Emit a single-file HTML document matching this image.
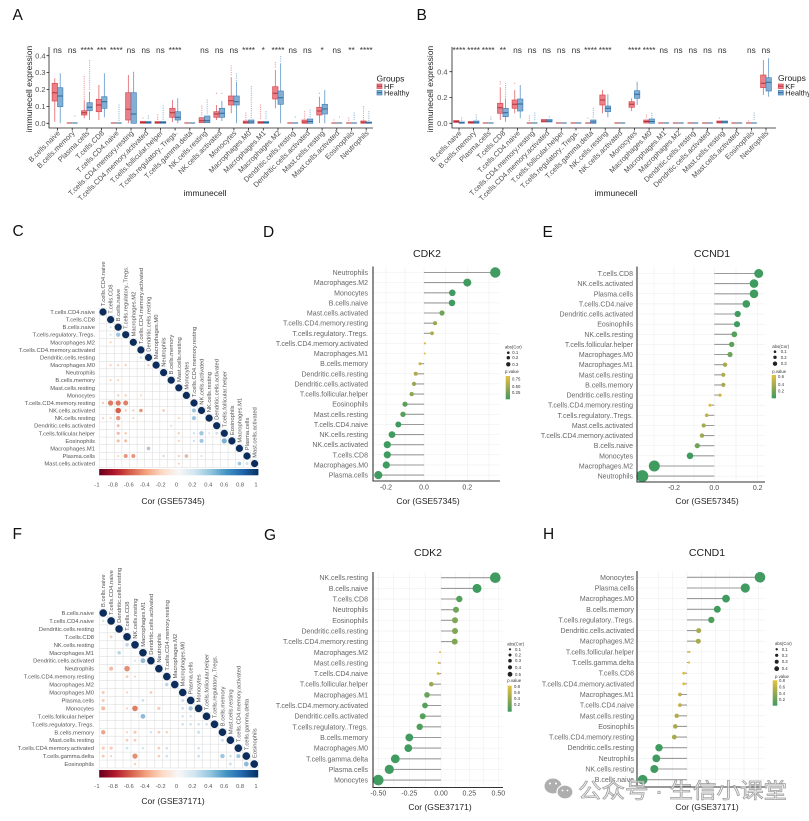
<!DOCTYPE html>
<html><head><meta charset="utf-8"><style>
html,body{margin:0;padding:0;background:#fff}
svg{display:block;font-family:"Liberation Sans",Arial,"Noto Sans CJK SC",sans-serif}
.tk{font-size:7.5px;fill:#4d4d4d}
.xl{font-size:7.3px;fill:#4d4d4d;text-anchor:end}
.sg{font-size:8.3px;fill:#333;text-anchor:middle}
.ml{font-size:5.8px;fill:#555}
.mr{font-size:5.8px;fill:#555;text-anchor:end}
.ll{font-size:7px;fill:#666;text-anchor:end}
.lg{font-size:4.3px;fill:#333}
.pl{font-size:15.5px;fill:#111}
.ttl{font-size:10.5px;fill:#222;text-anchor:middle}
.at{font-size:8.5px;fill:#222;text-anchor:middle}
.hr{fill:#eb8088;stroke:#d9474f;stroke-width:.7}
.br{fill:#84afd3;stroke:#4583bb;stroke-width:.7}
.hw{stroke:#dc4f57;stroke-width:.7;fill:none}
.bw{stroke:#4a88bf;stroke-width:.7;fill:none}
.hm{stroke:#b0323a;stroke-width:1;fill:none}
.bm{stroke:#2c6596;stroke-width:1;fill:none}
.ho{stroke:#f2a0a5;stroke-width:1.3;stroke-linecap:round;stroke-dasharray:0 2.2;fill:none}
.bo{stroke:#9cc1de;stroke-width:1.3;stroke-linecap:round;stroke-dasharray:0 2.2;fill:none}
.ax{stroke:#222;stroke-width:.8;fill:none}
.gr{stroke:#d9d9d9;stroke-width:.5;fill:none}
.gl{stroke:#ececec;stroke-width:.5;fill:none}
.sgm{stroke:#9a9a9a;stroke-width:1.1;fill:none}
.lax{stroke:#333;stroke-width:1.1;fill:none}
</style></head><body>
<svg width="809" height="821" viewBox="0 0 809 821" xmlns="http://www.w3.org/2000/svg">
<defs>
<linearGradient id="rdbu" x1="0" y1="0" x2="1" y2="0">
<stop offset="0" stop-color="#67001f"/><stop offset="0.1" stop-color="#b2182b"/><stop offset="0.2" stop-color="#d6604d"/><stop offset="0.3" stop-color="#f4a582"/><stop offset="0.4" stop-color="#fddbc7"/><stop offset="0.5" stop-color="#f7f7f7"/><stop offset="0.6" stop-color="#d1e5f0"/><stop offset="0.7" stop-color="#92c5de"/><stop offset="0.8" stop-color="#4393c3"/><stop offset="0.9" stop-color="#2166ac"/><stop offset="1" stop-color="#053061"/>
</linearGradient>
<linearGradient id="pv" x1="0" y1="0" x2="0" y2="1">
<stop offset="0" stop-color="#e3c23e"/><stop offset="0.5" stop-color="#98a851"/><stop offset="1" stop-color="#3f9b5f"/>
</linearGradient>
</defs>
<rect width="809" height="821" fill="#fff"/>

<!-- ============ PANEL A ============ -->
<text class="pl" x="12.5" y="20">A</text>
<text class="at" transform="translate(32 89) rotate(-90)">immunecell expression</text>
<text class="tk" text-anchor="end" x="45.5" y="125.9">0.0</text>
<text class="tk" text-anchor="end" x="45.5" y="109">0.1</text>
<text class="tk" text-anchor="end" x="45.5" y="92.1">0.2</text>
<text class="tk" text-anchor="end" x="45.5" y="75.2">0.3</text>
<text class="tk" text-anchor="end" x="45.5" y="58.3">0.4</text>
<path class="ax" d="M46.5 123.3H49M46.5 106.4H49M46.5 89.5H49M46.5 72.6H49M46.5 55.7H49"/>
<path class="ax" d="M49 47V128H373"/>
<path class="ax" d="M57.5 128v2.5M72.2 128v2.5M86.9 128v2.5M101.6 128v2.5M116.3 128v2.5M131 128v2.5M145.7 128v2.5M160.4 128v2.5M175.1 128v2.5M189.8 128v2.5M204.5 128v2.5M219.2 128v2.5M233.9 128v2.5M248.6 128v2.5M263.3 128v2.5M278 128v2.5M292.7 128v2.5M307.4 128v2.5M322.1 128v2.5M336.8 128v2.5M351.5 128v2.5M366.2 128v2.5"/>
<path class="ho" d="M84.2 76.7V99M143 118V120M157.7 115V120M201.8 106V116M216.5 93.3V93.4M231.2 66V76M245.9 113V120M260.6 105V120M275.3 62.7V69M304.7 111.7V119M319.4 93.3V93.4M334.1 120V120.1M348.8 118V121M363.5 106.7V120"/>
<path class="bo" d="M74.9 116V116.1M89.6 60.7V90M119 105V121M148.4 116V120M163.1 106V120M207.2 100V114M221.9 93.3V93.4M236.6 74V81M251.3 86.7V119M266 111.7V120M280.7 56.7V62M295.4 117V117.1M310.1 110V118M339.5 117V117.1M354.2 113V121M368.9 111.7V121"/>
<path class="hw" d="M54.8 78.3V83.3M54.8 101V121.7M84.2 100V110.7M84.2 115V118.3M98.9 85V99.3M98.9 111.7V120M128.3 75V92.7M128.3 120V123.3M172.4 100V108.3M172.4 117.3V122M216.5 105V111.7M216.5 117.3V120M231.2 77.3V96M231.2 105V113.3M275.3 70V86.7M275.3 99V108.3M319.4 96.7V107.3M319.4 115V123"/>
<path class="bw" d="M60.2 73.3V87.7M60.2 106.7V123.3M89.6 91.7V102.7M89.6 110.7V120M104.3 73.3V96.7M104.3 108.3V117.3M133.7 71.7V92.7M177.8 98.3V111.7M177.8 120V123.3M221.9 101V108.3M221.9 117.3V121M236.6 82V96M236.6 105V123.3M280.7 63.3V91M280.7 104.3V123.3M324.8 90V104.3M324.8 114V123.3"/>
<g class="hr">
<rect x="52.1" y="83.3" width="5.4" height="17.7"/><rect x="81.5" y="110.7" width="5.4" height="4.3"/><rect x="96.2" y="99.3" width="5.4" height="12.4"/><rect x="125.6" y="92.7" width="5.4" height="27.3"/><rect x="140.3" y="121.3" width="5.4" height="2"/><rect x="155" y="121.5" width="5.4" height="1.8"/><rect x="169.7" y="108.3" width="5.4" height="9"/><rect x="199.1" y="117.7" width="5.4" height="5"/><rect x="213.8" y="111.7" width="5.4" height="5.6"/><rect x="228.5" y="96" width="5.4" height="9"/><rect x="243.2" y="121" width="5.4" height="2.3"/><rect x="257.9" y="121.5" width="5.4" height="1.8"/><rect x="272.6" y="86.7" width="5.4" height="12.3"/><rect x="302" y="120" width="5.4" height="3.3"/><rect x="316.7" y="107.3" width="5.4" height="7.7"/><rect x="360.8" y="121" width="5.4" height="2.3"/>
</g>
<g class="br">
<rect x="57.5" y="87.7" width="5.4" height="19"/><rect x="86.9" y="102.7" width="5.4" height="8"/><rect x="101.6" y="96.7" width="5.4" height="11.6"/><rect x="131" y="92.7" width="5.4" height="30.6"/><rect x="145.7" y="121.5" width="5.4" height="1.8"/><rect x="160.4" y="121.5" width="5.4" height="1.8"/><rect x="175.1" y="111.7" width="5.4" height="8.3"/><rect x="204.5" y="116" width="5.4" height="6.7"/><rect x="219.2" y="108.3" width="5.4" height="9"/><rect x="233.9" y="96" width="5.4" height="9"/><rect x="248.6" y="120" width="5.4" height="3.3"/><rect x="263.3" y="121.5" width="5.4" height="1.8"/><rect x="278" y="91" width="5.4" height="13.3"/><rect x="307.4" y="119" width="5.4" height="4.3"/><rect x="322.1" y="104.3" width="5.4" height="9.7"/><rect x="366.2" y="122" width="5.4" height="1.3"/>
</g>
<path class="hm" d="M52.1 92.7h5.4M81.5 112.7h5.4M96.2 105h5.4M125.6 109.3h5.4M169.7 112.7h5.4M199.1 120.7h5.4M213.8 114h5.4M228.5 100.7h5.4M272.6 93.3h5.4M316.7 111h5.4M66.8 123h5.4M110.9 123h5.4M184.4 123h5.4M287.3 123h5.4M331.4 123h5.4M346.1 123h5.4M140.3 122.5h5.4M155 122.6h5.4M243.2 122.3h5.4M257.9 122.6h5.4M302 122h5.4M360.8 122.3h5.4"/>
<path class="bm" d="M57.5 96h5.4M86.9 107.3h5.4M101.6 101.7h5.4M131 114h5.4M175.1 117.3h5.4M204.5 120.7h5.4M219.2 113.3h5.4M233.9 101.7h5.4M278 97.7h5.4M322.1 109h5.4M72.2 123h5.4M116.3 123h5.4M189.8 123h5.4M292.7 123h5.4M336.8 123h5.4M351.5 123h5.4M145.7 122.5h5.4M160.4 122.5h5.4M248.6 122h5.4M263.3 122.5h5.4M307.4 121.5h5.4M366.2 122.7h5.4"/>
<g class="sg">
<text x="57.5" y="53">ns</text><text x="72.2" y="53">ns</text><text x="86.9" y="53">****</text><text x="101.6" y="53">***</text><text x="116.3" y="53">****</text><text x="131" y="53">ns</text><text x="145.7" y="53">ns</text><text x="160.4" y="53">ns</text><text x="175.1" y="53">****</text><text x="204.5" y="53">ns</text><text x="219.2" y="53">ns</text><text x="233.9" y="53">ns</text><text x="248.6" y="53">****</text><text x="263.3" y="53">*</text><text x="278" y="53">****</text><text x="292.7" y="53">ns</text><text x="307.4" y="53">ns</text><text x="322.1" y="53">*</text><text x="336.8" y="53">ns</text><text x="351.5" y="53">**</text><text x="366.2" y="53">****</text>
</g>
<g class="xl">
<text transform="translate(60.5 133.5) rotate(-45)">B.cells.naive</text>
<text transform="translate(75.2 133.5) rotate(-45)">B.cells.memory</text>
<text transform="translate(89.9 133.5) rotate(-45)">Plasma.cells</text>
<text transform="translate(104.6 133.5) rotate(-45)">T.cells.CD8</text>
<text transform="translate(119.3 133.5) rotate(-45)">T.cells.CD4.naive</text>
<text transform="translate(134 133.5) rotate(-45)">T.cells.CD4.memory.resting</text>
<text transform="translate(148.7 133.5) rotate(-45)">T.cells.CD4.memory.activated</text>
<text transform="translate(163.4 133.5) rotate(-45)">T.cells.follicular.helper</text>
<text transform="translate(178.1 133.5) rotate(-45)">T.cells.regulatory..Tregs.</text>
<text transform="translate(192.8 133.5) rotate(-45)">T.cells.gamma.delta</text>
<text transform="translate(207.5 133.5) rotate(-45)">NK.cells.resting</text>
<text transform="translate(222.2 133.5) rotate(-45)">NK.cells.activated</text>
<text transform="translate(236.9 133.5) rotate(-45)">Monocytes</text>
<text transform="translate(251.6 133.5) rotate(-45)">Macrophages.M0</text>
<text transform="translate(266.3 133.5) rotate(-45)">Macrophages.M1</text>
<text transform="translate(281 133.5) rotate(-45)">Macrophages.M2</text>
<text transform="translate(295.7 133.5) rotate(-45)">Dendritic.cells.resting</text>
<text transform="translate(310.4 133.5) rotate(-45)">Dendritic.cells.activated</text>
<text transform="translate(325.1 133.5) rotate(-45)">Mast.cells.resting</text>
<text transform="translate(339.8 133.5) rotate(-45)">Mast.cells.activated</text>
<text transform="translate(354.5 133.5) rotate(-45)">Eosinophils</text>
<text transform="translate(369.2 133.5) rotate(-45)">Neutrophils</text>
</g>
<text class="at" x="205" y="196">immunecell</text>
<text x="376.5" y="81.5" style="font-size:8.5px;fill:#222">Groups</text>
<rect class="hr" x="377" y="84" width="5" height="4.5"/><path class="hm" d="M377 86.2h5"/>
<text x="384" y="89" style="font-size:7.5px;fill:#222">HF</text>
<rect class="br" x="377" y="90.5" width="5" height="4.5"/><path class="bm" d="M377 92.7h5"/>
<text x="384" y="95.5" style="font-size:7.5px;fill:#222">Healthy</text>

<!-- ============ PANEL B ============ -->
<text class="pl" x="416.5" y="20">B</text>
<text class="at" transform="translate(433 89) rotate(-90)">immunecell expression</text>
<text class="tk" text-anchor="end" x="447.5" y="125.9">0.0</text>
<text class="tk" text-anchor="end" x="447.5" y="100.1">0.2</text>
<text class="tk" text-anchor="end" x="447.5" y="74.3">0.4</text>
<path class="ax" d="M449.5 123.3H452M449.5 97.5H452M449.5 71.7H452"/>
<path class="ax" d="M452 47V128H776"/>
<path class="ax" d="M459 128v2.5M473.6 128v2.5M488.2 128v2.5M502.9 128v2.5M517.5 128v2.5M532.1 128v2.5M546.7 128v2.5M561.3 128v2.5M576 128v2.5M590.6 128v2.5M605.2 128v2.5M619.8 128v2.5M634.4 128v2.5M649.1 128v2.5M663.7 128v2.5M678.3 128v2.5M692.9 128v2.5M707.5 128v2.5M722.2 128v2.5M736.8 128v2.5M751.4 128v2.5M766 128v2.5"/>
<path class="ho" d="M500.2 81.7V86M514.8 83.3V83.4M529.4 116V121M587.9 118V118.1M646.4 115V119M719.5 118V118.1M748.7 121V121.1"/>
<path class="bo" d="M461.7 118V121M476.3 115V120M490.9 117V121M505.6 83.3V97M534.8 113V121M549.4 117V117.1M593.3 108.3V119M651.8 113.3V118M754.1 113V121"/>
<path class="hw" d="M500.2 87.3V103.3M500.2 113.3V120M514.8 90V100M514.8 108.3V113.3M602.5 90V95M602.5 105V113.3M631.7 98.3V101.7M631.7 107.3V111M763.3 60V75M763.3 87.7V95"/>
<path class="bw" d="M505.6 98.3V108.3M505.6 116.7V121.7M520.2 85V99M520.2 111V118.3M607.9 94.3V106M607.9 111.7V117.3M637.1 81.7V90.7M637.1 98.3V105M768.7 58.3V77.7M768.7 91V96.7"/>
<g class="hr">
<rect x="453.6" y="120.5" width="5.4" height="2"/><rect x="468.2" y="121.5" width="5.4" height="1.8"/><rect x="497.5" y="103.3" width="5.4" height="10"/><rect x="512.1" y="100" width="5.4" height="8.3"/><rect x="541.3" y="119.5" width="5.4" height="2.5"/><rect x="599.8" y="95" width="5.4" height="10"/><rect x="629" y="101.7" width="5.4" height="5.6"/><rect x="643.7" y="120" width="5.4" height="3"/><rect x="716.8" y="121" width="5.4" height="2"/><rect x="760.6" y="75" width="5.4" height="12.7"/>
</g>
<g class="br">
<rect x="459" y="122" width="5.4" height="1.3"/><rect x="473.6" y="121" width="5.4" height="2.3"/><rect x="502.9" y="108.3" width="5.4" height="8.4"/><rect x="517.5" y="99" width="5.4" height="12"/><rect x="546.7" y="119.5" width="5.4" height="2.5"/><rect x="590.6" y="120" width="5.4" height="3.3"/><rect x="605.2" y="106" width="5.4" height="5.7"/><rect x="634.4" y="90.7" width="5.4" height="7.6"/><rect x="649.1" y="119" width="5.4" height="4.3"/><rect x="722.2" y="121" width="5.4" height="2"/><rect x="766" y="77.7" width="5.4" height="13.3"/>
</g>
<path class="hm" d="M453.6 121.5h5.4M468.2 122.4h5.4M497.5 107.7h5.4M512.1 104.3h5.4M541.3 121h5.4M599.8 100h5.4M629 104.3h5.4M643.7 121.5h5.4M716.8 122h5.4M760.6 83.3h5.4M482.8 123h5.4M526.7 123h5.4M555.9 123h5.4M570.6 123h5.4M585.2 123h5.4M614.4 123h5.4M658.3 123h5.4M672.9 123h5.4M687.5 123h5.4M702.1 123h5.4M731.4 123h5.4M746 123h5.4"/>
<path class="bm" d="M459 122.7h5.4M473.6 122.3h5.4M502.9 112.7h5.4M517.5 104h5.4M546.7 121h5.4M590.6 122h5.4M605.2 108.3h5.4M634.4 94.3h5.4M649.1 121.5h5.4M722.2 122h5.4M766 82.3h5.4M488.2 123h5.4M532.1 123h5.4M561.3 123h5.4M576 123h5.4M619.8 123h5.4M663.7 123h5.4M678.3 123h5.4M692.9 123h5.4M707.5 123h5.4M736.8 123h5.4M751.4 123h5.4"/>
<g class="sg">
<text x="459" y="53">****</text><text x="473.6" y="53">****</text><text x="488.2" y="53">****</text><text x="502.9" y="53">**</text><text x="517.5" y="53">ns</text><text x="532.1" y="53">ns</text><text x="546.7" y="53">ns</text><text x="561.3" y="53">ns</text><text x="576" y="53">ns</text><text x="590.6" y="53">****</text><text x="605.2" y="53">****</text><text x="634.4" y="53">****</text><text x="649.1" y="53">****</text><text x="663.7" y="53">ns</text><text x="678.3" y="53">ns</text><text x="692.9" y="53">ns</text><text x="707.5" y="53">ns</text><text x="722.2" y="53">ns</text><text x="751.4" y="53">ns</text><text x="766" y="53">ns</text>
</g>
<g class="xl">
<text transform="translate(462 133.5) rotate(-45)">B.cells.naive</text>
<text transform="translate(476.6 133.5) rotate(-45)">B.cells.memory</text>
<text transform="translate(491.2 133.5) rotate(-45)">Plasma.cells</text>
<text transform="translate(505.9 133.5) rotate(-45)">T.cells.CD8</text>
<text transform="translate(520.5 133.5) rotate(-45)">T.cells.CD4.naive</text>
<text transform="translate(535.1 133.5) rotate(-45)">T.cells.CD4.memory.resting</text>
<text transform="translate(549.7 133.5) rotate(-45)">T.cells.CD4.memory.activated</text>
<text transform="translate(564.3 133.5) rotate(-45)">T.cells.follicular.helper</text>
<text transform="translate(579 133.5) rotate(-45)">T.cells.regulatory..Tregs.</text>
<text transform="translate(593.6 133.5) rotate(-45)">T.cells.gamma.delta</text>
<text transform="translate(608.2 133.5) rotate(-45)">NK.cells.resting</text>
<text transform="translate(622.8 133.5) rotate(-45)">NK.cells.activated</text>
<text transform="translate(637.4 133.5) rotate(-45)">Monocytes</text>
<text transform="translate(652.1 133.5) rotate(-45)">Macrophages.M0</text>
<text transform="translate(666.7 133.5) rotate(-45)">Macrophages.M1</text>
<text transform="translate(681.3 133.5) rotate(-45)">Macrophages.M2</text>
<text transform="translate(695.9 133.5) rotate(-45)">Dendritic.cells.resting</text>
<text transform="translate(710.5 133.5) rotate(-45)">Dendritic.cells.activated</text>
<text transform="translate(725.2 133.5) rotate(-45)">Mast.cells.resting</text>
<text transform="translate(739.8 133.5) rotate(-45)">Mast.cells.activated</text>
<text transform="translate(754.4 133.5) rotate(-45)">Eosinophils</text>
<text transform="translate(769 133.5) rotate(-45)">Neutrophils</text>
</g>
<text class="at" x="616" y="196">immunecell</text>
<text x="778" y="81" style="font-size:8.5px;fill:#222">Groups</text>
<rect class="hr" x="778.3" y="84" width="5" height="4.5"/><path class="hm" d="M778.3 86.2h5"/>
<text x="785.3" y="89" style="font-size:7.5px;fill:#222">KF</text>
<rect class="br" x="778.3" y="90.5" width="5" height="4.5"/><path class="bm" d="M778.3 92.7h5"/>
<text x="785.3" y="95.5" style="font-size:7.5px;fill:#222">Healthy</text>

<!-- ============ PANEL C ============ -->
<text class="pl" x="12.5" y="236">C</text>
<path class="gr" d="M99.2 308.2H106.78M99.2 315.78H114.36M99.2 323.36H121.94M99.2 330.94H129.52M99.2 338.52H137.1M99.2 346.1H144.68M99.2 353.68H152.26M99.2 361.26H159.84M99.2 368.84H167.42M99.2 376.42H175M99.2 384H182.58M99.2 391.58H190.16M99.2 399.16H197.74M99.2 406.74H205.32M99.2 414.32H212.9M99.2 421.9H220.48M99.2 429.48H228.06M99.2 437.06H235.64M99.2 444.64H243.22M99.2 452.22H250.8M99.2 459.8H258.38M99.2 467.38H258.38"/>
<path class="gr" d="M99.2 308.2V467.38M106.78 308.2V467.38M114.36 315.78V467.38M121.94 323.36V467.38M129.52 330.94V467.38M137.1 338.52V467.38M144.68 346.1V467.38M152.26 353.68V467.38M159.84 361.26V467.38M167.42 368.84V467.38M175 376.42V467.38M182.58 384V467.38M190.16 391.58V467.38M197.74 399.16V467.38M205.32 406.74V467.38M212.9 414.32V467.38M220.48 421.9V467.38M228.06 429.48V467.38M235.64 437.06V467.38M243.22 444.64V467.38M250.8 452.22V467.38M258.38 459.8V467.38"/>
<g fill="#0c2d5c">
<circle cx="103" cy="312" r="3.6"/><circle cx="110.6" cy="319.6" r="3.6"/><circle cx="118.2" cy="327.2" r="3.6"/><circle cx="125.7" cy="334.7" r="3.6"/><circle cx="133.3" cy="342.3" r="3.6"/><circle cx="140.9" cy="349.9" r="3.6"/><circle cx="148.5" cy="357.5" r="3.6"/><circle cx="156.1" cy="365.1" r="3.6"/><circle cx="163.6" cy="372.6" r="3.6"/><circle cx="171.2" cy="380.2" r="3.6"/><circle cx="178.8" cy="387.8" r="3.6"/><circle cx="186.4" cy="395.4" r="3.6"/><circle cx="194" cy="403" r="3.6"/><circle cx="201.5" cy="410.5" r="3.6"/><circle cx="209.1" cy="418.1" r="3.6"/><circle cx="216.7" cy="425.7" r="3.6"/><circle cx="224.3" cy="433.3" r="3.6"/><circle cx="231.9" cy="440.9" r="3.6"/><circle cx="239.4" cy="448.4" r="3.6"/><circle cx="247" cy="456" r="3.6"/><circle cx="254.6" cy="463.6" r="3.6"/>
</g>
<g>
<circle cx="110.6" cy="327.2" r="1" fill="#cfe2ef"/>
<circle cx="110.6" cy="334.7" r="1" fill="#cfe2ef"/>
<circle cx="118.2" cy="334.7" r="2.2" fill="#9dc6df"/>
<circle cx="110.6" cy="342.3" r="1" fill="#f6cdb8"/>
<circle cx="140.9" cy="357.5" r="1.3" fill="#cfe2ef"/>
<circle cx="110.6" cy="365.1" r="1.1" fill="#f6cdb8"/>
<circle cx="118.2" cy="365.1" r="1.1" fill="#f6cdb8"/>
<circle cx="125.7" cy="365.1" r="1.1" fill="#f6cdb8"/>
<circle cx="148.5" cy="365.1" r="1.1" fill="#f6cdb8"/>
<circle cx="110.6" cy="380.2" r="1" fill="#f6cdb8"/>
<circle cx="118.2" cy="380.2" r="1" fill="#f6cdb8"/>
<circle cx="118.2" cy="395.4" r="1.2" fill="#f6cdb8"/>
<circle cx="125.7" cy="395.4" r="1.2" fill="#f6cdb8"/>
<circle cx="140.9" cy="395.4" r=".9" fill="#f6cdb8"/>
<circle cx="103" cy="403" r="1.2" fill="#f6cdb8"/>
<circle cx="110.6" cy="403" r="2.6" fill="#dc7a63"/>
<circle cx="118.2" cy="403" r="2.6" fill="#dc7a63"/>
<circle cx="125.7" cy="403" r="2.5" fill="#df8169"/>
<circle cx="118.2" cy="410.5" r="2.8" fill="#d6604d"/>
<circle cx="125.7" cy="410.5" r="1.2" fill="#f6cdb8"/>
<circle cx="133.3" cy="410.5" r="1.2" fill="#f6cdb8"/>
<circle cx="140.9" cy="410.5" r="1.8" fill="#e8957a"/>
<circle cx="163.6" cy="410.5" r="1.4" fill="#f6cdb8"/>
<circle cx="194" cy="410.5" r="2" fill="#9dc6df"/>
<circle cx="103" cy="418.1" r="1" fill="#f6cdb8"/>
<circle cx="110.6" cy="418.1" r="1" fill="#f6cdb8"/>
<circle cx="118.2" cy="418.1" r="2.2" fill="#e8957a"/>
<circle cx="133.3" cy="418.1" r="1" fill="#f6cdb8"/>
<circle cx="178.8" cy="418.1" r="1" fill="#f6cdb8"/>
<circle cx="194" cy="418.1" r="2" fill="#9dc6df"/>
<circle cx="118.2" cy="425.7" r="1.4" fill="#f2bba3"/>
<circle cx="171.2" cy="425.7" r="1" fill="#cfe2ef"/>
<circle cx="118.2" cy="433.3" r="1.6" fill="#f2bba3"/>
<circle cx="125.7" cy="433.3" r="1.3" fill="#f6cdb8"/>
<circle cx="178.8" cy="433.3" r="1.2" fill="#f6cdb8"/>
<circle cx="194" cy="433.3" r="1.2" fill="#cfe2ef"/>
<circle cx="201.5" cy="433.3" r="2.2" fill="#9dc6df"/>
<circle cx="209.1" cy="433.3" r="1" fill="#cfe2ef"/>
<circle cx="216.7" cy="433.3" r="1.4" fill="#cfe2ef"/>
<circle cx="118.2" cy="440.9" r="1.5" fill="#f2bba3"/>
<circle cx="125.7" cy="440.9" r="1.5" fill="#f2bba3"/>
<circle cx="178.8" cy="440.9" r="1" fill="#f6cdb8"/>
<circle cx="194" cy="440.9" r="1.2" fill="#cfe2ef"/>
<circle cx="201.5" cy="440.9" r="2" fill="#9dc6df"/>
<circle cx="224.3" cy="440.9" r="2.6" fill="#7fb0d4"/>
<circle cx="148.5" cy="448.4" r="1.8" fill="#b5c2cf"/>
<circle cx="118.2" cy="456" r="1" fill="#f6cdb8"/>
<circle cx="125.7" cy="456" r="2" fill="#e8957a"/>
<circle cx="133.3" cy="456" r="2" fill="#e8957a"/>
<circle cx="163.6" cy="456" r="1.1" fill="#f6cdb8"/>
<circle cx="178.8" cy="456" r="1.1" fill="#f6cdb8"/>
<circle cx="186.4" cy="456" r="1.8" fill="#e7b3a0"/>
<circle cx="201.5" cy="456" r="1" fill="#cfe2ef"/>
<circle cx="178.8" cy="463.6" r="1" fill="#f6cdb8"/>
<circle cx="239.4" cy="463.6" r="1.8" fill="#9dc6df"/>
<circle cx="247" cy="463.6" r="1.5" fill="#cfe2ef"/>
</g>
<g class="mr">
<text x="95" y="314">T.cells.CD4.naive</text><text x="95" y="321.6">T.cells.CD8</text><text x="95" y="329.2">B.cells.naive</text><text x="95" y="336.7">T.cells.regulatory..Tregs.</text><text x="95" y="344.3">Macrophages.M2</text><text x="95" y="351.9">T.cells.CD4.memory.activated</text><text x="95" y="359.5">Dendritic.cells.resting</text><text x="95" y="367.1">Macrophages.M0</text><text x="95" y="374.6">Neutrophils</text><text x="95" y="382.2">B.cells.memory</text><text x="95" y="389.8">Mast.cells.resting</text><text x="95" y="397.4">Monocytes</text><text x="95" y="405">T.cells.CD4.memory.resting</text><text x="95" y="412.5">NK.cells.activated</text><text x="95" y="420.1">NK.cells.resting</text><text x="95" y="427.7">Dendritic.cells.activated</text><text x="95" y="435.3">T.cells.follicular.helper</text><text x="95" y="442.9">Eosinophils</text><text x="95" y="450.4">Macrophages.M1</text><text x="95" y="458">Plasma.cells</text><text x="95" y="465.6">Mast.cells.activated</text>
</g>
<g class="ml">
<text transform="translate(105 306.2) rotate(-90)">T.cells.CD4.naive</text>
<text transform="translate(112.6 313.8) rotate(-90)">T.cells.CD8</text>
<text transform="translate(120.2 321.4) rotate(-90)">B.cells.naive</text>
<text transform="translate(127.7 328.9) rotate(-90)">T.cells.regulatory..Tregs.</text>
<text transform="translate(135.3 336.5) rotate(-90)">Macrophages.M2</text>
<text transform="translate(142.9 344.1) rotate(-90)">T.cells.CD4.memory.activated</text>
<text transform="translate(150.5 351.7) rotate(-90)">Dendritic.cells.resting</text>
<text transform="translate(158.1 359.3) rotate(-90)">Macrophages.M0</text>
<text transform="translate(165.6 366.8) rotate(-90)">Neutrophils</text>
<text transform="translate(173.2 374.4) rotate(-90)">B.cells.memory</text>
<text transform="translate(180.8 382) rotate(-90)">Mast.cells.resting</text>
<text transform="translate(188.4 389.6) rotate(-90)">Monocytes</text>
<text transform="translate(196 397.2) rotate(-90)">T.cells.CD4.memory.resting</text>
<text transform="translate(203.5 404.7) rotate(-90)">NK.cells.activated</text>
<text transform="translate(211.1 412.3) rotate(-90)">NK.cells.resting</text>
<text transform="translate(218.7 419.9) rotate(-90)">Dendritic.cells.activated</text>
<text transform="translate(226.3 427.5) rotate(-90)">T.cells.follicular.helper</text>
<text transform="translate(233.9 435.1) rotate(-90)">Eosinophils</text>
<text transform="translate(241.4 442.6) rotate(-90)">Macrophages.M1</text>
<text transform="translate(249 450.2) rotate(-90)">Plasma.cells</text>
<text transform="translate(256.6 457.8) rotate(-90)">Mast.cells.activated</text>
</g>
<rect x="99.2" y="469" width="159.2" height="6.3" fill="url(#rdbu)"/>
<g class="ml" text-anchor="middle">
<text x="97" y="486.5">-1</text><text x="112.9" y="486.5">-0.8</text><text x="128.8" y="486.5">-0.6</text><text x="144.7" y="486.5">-0.4</text><text x="160.6" y="486.5">-0.2</text><text x="176.5" y="486.5">0</text><text x="192.4" y="486.5">0.2</text><text x="208.3" y="486.5">0.4</text><text x="224.2" y="486.5">0.6</text><text x="240.1" y="486.5">0.8</text><text x="256" y="486.5">1</text>
</g>
<text class="at" x="173" y="504">Cor (GSE57345)</text>

<!-- ============ PANEL D ============ -->
<text class="pl" x="263" y="237">D</text>
<text class="ttl" x="427" y="257">CDK2</text>
<path class="gl" d="M386 266.5V481M405 266.5V481M424 266.5V481M445.6 266.5V481M467.3 266.5V481M489 266.5V481M373 272.5H500M373 282.6H500M373 292.8H500M373 302.9H500M373 313H500M373 323.2H500M373 333.3H500M373 343.4H500M373 353.5H500M373 363.7H500M373 373.8H500M373 383.9H500M373 394.1H500M373 404.2H500M373 414.3H500M373 424.5H500M373 434.6H500M373 444.7H500M373 454.8H500M373 465H500M373 475.1H500"/>
<path class="sgm" d="M424 272.5H495.3M424 282.6H467.3M424 292.8H452.3M424 302.9H452M424 313H442M424 323.2H435M424 333.3H432M424 343.4H425M424 353.5H424.7M424 363.7H420M424 373.8H415.7M424 383.9H414M424 394.1H411.7M424 404.2H405M424 414.3H403M424 424.5H398.3M424 434.6H392M424 444.7H387.3M424 454.8H387.3M424 465H386.3M424 475.1H378.3"/>
<circle cx="495.3" cy="272.5" r="5.2" fill="#3f9b5f"/><circle cx="467.3" cy="282.6" r="4" fill="#3f9b5f"/><circle cx="452.3" cy="292.8" r="3.3" fill="#3f9b5f"/><circle cx="452" cy="302.9" r="3.3" fill="#3f9b5f"/><circle cx="442" cy="313" r="2.6" fill="#6ea457"/><circle cx="435" cy="323.2" r="2.1" fill="#96a752"/><circle cx="432" cy="333.3" r="1.9" fill="#aeaa4d"/><circle cx="425" cy="343.4" r="1.1" fill="#e0bd44"/><circle cx="424.7" cy="353.5" r="1" fill="#e0bd44"/><circle cx="420" cy="363.7" r="1.5" fill="#c8b349"/><circle cx="415.7" cy="373.8" r="2" fill="#aeaa4d"/><circle cx="414" cy="383.9" r="2.1" fill="#96a752"/><circle cx="411.7" cy="394.1" r="2.2" fill="#8fa653"/><circle cx="405" cy="404.2" r="2.6" fill="#5aa05b"/><circle cx="403" cy="414.3" r="2.7" fill="#5aa05b"/><circle cx="398.3" cy="424.5" r="3" fill="#3f9b5f"/><circle cx="392" cy="434.6" r="3.4" fill="#3f9b5f"/><circle cx="387.3" cy="444.7" r="3.6" fill="#3f9b5f"/><circle cx="387.3" cy="454.8" r="3.6" fill="#3f9b5f"/><circle cx="386.3" cy="465" r="3.6" fill="#3f9b5f"/><circle cx="378.3" cy="475.1" r="4.1" fill="#3f9b5f"/>
<path class="lax" d="M373 266.5V481H500"/>
<g class="ll">
<text x="368" y="275">Neutrophils</text><text x="368" y="285.1">Macrophages.M2</text><text x="368" y="295.3">Monocytes</text><text x="368" y="305.4">B.cells.naive</text><text x="368" y="315.5">Mast.cells.activated</text><text x="368" y="325.7">T.cells.CD4.memory.resting</text><text x="368" y="335.8">T.cells.regulatory..Tregs.</text><text x="368" y="345.9">T.cells.CD4.memory.activated</text><text x="368" y="356">Macrophages.M1</text><text x="368" y="366.2">B.cells.memory</text><text x="368" y="376.3">Dendritic.cells.resting</text><text x="368" y="386.4">Dendritic.cells.activated</text><text x="368" y="396.6">T.cells.follicular.helper</text><text x="368" y="406.7">Eosinophils</text><text x="368" y="416.8">Mast.cells.resting</text><text x="368" y="427">T.cells.CD4.naive</text><text x="368" y="437.1">NK.cells.resting</text><text x="368" y="447.2">NK.cells.activated</text><text x="368" y="457.3">T.cells.CD8</text><text x="368" y="467.5">Macrophages.M0</text><text x="368" y="477.6">Plasma.cells</text>
</g>
<g class="tk" text-anchor="middle" style="font-size:7px"><text x="386" y="489.5">-0.2</text><text x="424" y="489.5">0.0</text><text x="467.3" y="489.5">0.2</text></g>
<text class="at" x="428" y="504">Cor (GSE57345)</text>
<text class="lg" x="505" y="348.5">abs(Cor)</text>
<circle cx="508.3" cy="352.7" r="1.3" fill="#222"/><circle cx="508.3" cy="357.7" r="1.7" fill="#222"/><circle cx="508.3" cy="364.3" r="2.2" fill="#222"/>
<text class="lg" x="512.3" y="354.2">0.1</text><text class="lg" x="512.3" y="359.2">0.2</text><text class="lg" x="512.3" y="365.8">0.3</text>
<text class="lg" x="505" y="373">p.value</text>
<rect x="505.7" y="376" width="4.3" height="23.3" fill="url(#pv)"/>
<text class="lg" x="512" y="380.5">0.75</text><text class="lg" x="512" y="388">0.50</text><text class="lg" x="512" y="394.2">0.25</text>

<!-- ============ PANEL E ============ -->
<text class="pl" x="542.5" y="237">E</text>
<text class="ttl" x="712" y="257">CCND1</text>
<path class="gl" d="M654 266.5V482M674 266.5V482M694 266.5V482M714.3 266.5V482M736 266.5V482M757.7 266.5V482M637 273.5H765M637 283.6H765M637 293.8H765M637 303.9H765M637 314H765M637 324.2H765M637 334.3H765M637 344.4H765M637 354.5H765M637 364.7H765M637 374.8H765M637 384.9H765M637 395.1H765M637 405.2H765M637 415.3H765M637 425.5H765M637 435.6H765M637 445.7H765M637 455.8H765M637 466H765M637 476.1H765"/>
<path class="sgm" d="M714.3 273.5H758.7M714.3 283.6H754M714.3 293.8H754M714.3 303.9H746.3M714.3 314H737.7M714.3 324.2H737M714.3 334.3H734.3M714.3 344.4H731.7M714.3 354.5H730M714.3 364.7H725M714.3 374.8H723.3M714.3 384.9H723.3M714.3 395.1H720M714.3 405.2H710M714.3 415.3H706.7M714.3 425.5H703.7M714.3 435.6H702M714.3 445.7H697.3M714.3 455.8H690M714.3 466H654.3M714.3 476.1H642.3"/>
<circle cx="758.7" cy="273.5" r="4.5" fill="#3f9b5f"/><circle cx="754" cy="283.6" r="4.3" fill="#3f9b5f"/><circle cx="754" cy="293.8" r="4.3" fill="#3f9b5f"/><circle cx="746.3" cy="303.9" r="3.8" fill="#3f9b5f"/><circle cx="737.7" cy="314" r="3.1" fill="#3f9b5f"/><circle cx="737" cy="324.2" r="3.1" fill="#3f9b5f"/><circle cx="734.3" cy="334.3" r="2.9" fill="#55a05b"/><circle cx="731.7" cy="344.4" r="2.7" fill="#5ca15a"/><circle cx="730" cy="354.5" r="2.6" fill="#6ea457"/><circle cx="725" cy="364.7" r="2.2" fill="#a8aa4e"/><circle cx="723.3" cy="374.8" r="2.1" fill="#b0aa4c"/><circle cx="723.3" cy="384.9" r="2.1" fill="#a8aa4e"/><circle cx="720" cy="395.1" r="1.6" fill="#cdb548"/><circle cx="710" cy="405.2" r="1.5" fill="#dcbc45"/><circle cx="706.7" cy="415.3" r="1.8" fill="#c2b14a"/><circle cx="703.7" cy="425.5" r="2.1" fill="#a8aa4e"/><circle cx="702" cy="435.6" r="2.2" fill="#a0a84f"/><circle cx="697.3" cy="445.7" r="2.6" fill="#70a356"/><circle cx="690" cy="455.8" r="3.3" fill="#3f9b5f"/><circle cx="654.3" cy="466" r="5.5" fill="#3f9b5f"/><circle cx="642.3" cy="476.1" r="6" fill="#3f9b5f"/>
<path class="lax" d="M637 266.5V482H765"/>
<g class="ll">
<text x="633" y="276">T.cells.CD8</text><text x="633" y="286.1">NK.cells.activated</text><text x="633" y="296.3">Plasma.cells</text><text x="633" y="306.4">T.cells.CD4.naive</text><text x="633" y="316.5">Dendritic.cells.activated</text><text x="633" y="326.7">Eosinophils</text><text x="633" y="336.8">NK.cells.resting</text><text x="633" y="346.9">T.cells.follicular.helper</text><text x="633" y="357">Macrophages.M0</text><text x="633" y="367.2">Macrophages.M1</text><text x="633" y="377.3">Mast.cells.resting</text><text x="633" y="387.4">B.cells.memory</text><text x="633" y="397.6">Dendritic.cells.resting</text><text x="633" y="407.7">T.cells.CD4.memory.resting</text><text x="633" y="417.8">T.cells.regulatory..Tregs.</text><text x="633" y="428">Mast.cells.activated</text><text x="633" y="438.1">T.cells.CD4.memory.activated</text><text x="633" y="448.2">B.cells.naive</text><text x="633" y="458.3">Monocytes</text><text x="633" y="468.5">Macrophages.M2</text><text x="633" y="478.6">Neutrophils</text>
</g>
<g class="tk" text-anchor="middle" style="font-size:7px"><text x="674" y="490">-0.2</text><text x="714.3" y="490">0.0</text><text x="757.7" y="490">0.2</text></g>
<text class="at" x="707" y="504">Cor (GSE57345)</text>
<text class="lg" x="772.3" y="348">abs(Cor)</text>
<circle cx="775" cy="351.7" r="1.3" fill="#222"/><circle cx="775" cy="357.3" r="1.7" fill="#222"/><circle cx="775" cy="363.7" r="2.2" fill="#222"/>
<text class="lg" x="780.7" y="353.2">0.1</text><text class="lg" x="780.7" y="358.8">0.2</text><text class="lg" x="780.7" y="365.2">0.3</text>
<text class="lg" x="772.3" y="373">p.value</text>
<rect x="771.7" y="375" width="4.3" height="23.3" fill="url(#pv)"/>
<text class="lg" x="778" y="378.2">0.6</text><text class="lg" x="778" y="385.8">0.4</text><text class="lg" x="778" y="392.5">0.2</text>

<!-- ============ PANEL F ============ -->
<text class="pl" x="12.5" y="539">F</text>
<path class="gr" d="M99.2 609H107.15M99.2 616.95H115.1M99.2 624.9H123.05M99.2 632.85H131M99.2 640.8H138.95M99.2 648.75H146.9M99.2 656.7H154.85M99.2 664.65H162.8M99.2 672.6H170.75M99.2 680.55H178.7M99.2 688.5H186.65M99.2 696.45H194.6M99.2 704.4H202.55M99.2 712.35H210.5M99.2 720.3H218.45M99.2 728.25H226.4M99.2 736.2H234.35M99.2 744.15H242.3M99.2 752.1H250.25M99.2 760.05H258.2M99.2 768H258.2"/>
<path class="gr" d="M99.2 609V768M107.15 609V768M115.1 616.95V768M123.05 624.9V768M131 632.85V768M138.95 640.8V768M146.9 648.75V768M154.85 656.7V768M162.8 664.65V768M170.75 672.6V768M178.7 680.55V768M186.65 688.5V768M194.6 696.45V768M202.55 704.4V768M210.5 712.35V768M218.45 720.3V768M226.4 728.25V768M234.35 736.2V768M242.3 744.15V768M250.25 752.1V768M258.2 760.05V768"/>
<g fill="#0c2d5c">
<circle cx="103.2" cy="613" r="3.8"/><circle cx="111.15" cy="620.95" r="3.8"/><circle cx="119.1" cy="628.9" r="3.8"/><circle cx="127.05" cy="636.85" r="3.8"/><circle cx="135" cy="644.8" r="3.8"/><circle cx="142.95" cy="652.75" r="3.8"/><circle cx="150.9" cy="660.7" r="3.8"/><circle cx="158.85" cy="668.65" r="3.8"/><circle cx="166.8" cy="676.6" r="3.8"/><circle cx="174.75" cy="684.55" r="3.8"/><circle cx="182.7" cy="692.5" r="3.8"/><circle cx="190.65" cy="700.45" r="3.8"/><circle cx="198.6" cy="708.4" r="3.8"/><circle cx="206.55" cy="716.35" r="3.8"/><circle cx="214.5" cy="724.3" r="3.8"/><circle cx="222.45" cy="732.25" r="3.8"/><circle cx="230.4" cy="740.2" r="3.8"/><circle cx="238.35" cy="748.15" r="3.8"/><circle cx="246.3" cy="756.1" r="3.8"/><circle cx="254.25" cy="764.05" r="3.8"/>
</g>
<g>
<circle cx="103.2" cy="620.95" r="1.2" fill="#cfe2ef"/>
<circle cx="111.15" cy="636.85" r="1.3" fill="#f6cdb8"/>
<circle cx="127.05" cy="644.8" r="1.8" fill="#bcd6e8"/>
<circle cx="119.1" cy="652.75" r="1.8" fill="#bcd6e8"/>
<circle cx="135" cy="660.7" r="1" fill="#cfe2ef"/>
<circle cx="142.95" cy="660.7" r="2.4" fill="#8ebbd8"/>
<circle cx="111.15" cy="668.65" r="2" fill="#f2bba3"/>
<circle cx="127.05" cy="668.65" r="2.8" fill="#e39176"/>
<circle cx="127.05" cy="676.6" r="1.4" fill="#f6cdb8"/>
<circle cx="135" cy="676.6" r="1" fill="#f6cdb8"/>
<circle cx="166.8" cy="684.55" r="1.8" fill="#bcd6e8"/>
<circle cx="103.2" cy="692.5" r="1.5" fill="#f6cdb8"/>
<circle cx="127.05" cy="692.5" r="1" fill="#f6cdb8"/>
<circle cx="150.9" cy="692.5" r="1.4" fill="#f6cdb8"/>
<circle cx="103.2" cy="700.45" r="1.5" fill="#f6cdb8"/>
<circle cx="142.95" cy="700.45" r="1.4" fill="#cfe2ef"/>
<circle cx="182.7" cy="700.45" r="1.6" fill="#cfe2ef"/>
<circle cx="103.2" cy="708.4" r="2" fill="#f2bba3"/>
<circle cx="127.05" cy="708.4" r="1" fill="#f6cdb8"/>
<circle cx="135" cy="708.4" r="2.8" fill="#dd7f67"/>
<circle cx="158.85" cy="708.4" r="1.6" fill="#f6cdb8"/>
<circle cx="182.7" cy="708.4" r="1.4" fill="#cfe2ef"/>
<circle cx="190.65" cy="708.4" r="2.2" fill="#a9c9e0"/>
<circle cx="142.95" cy="716.35" r="2.4" fill="#8ebbd8"/>
<circle cx="182.7" cy="716.35" r="1.2" fill="#cfe2ef"/>
<circle cx="190.65" cy="716.35" r="1.2" fill="#cfe2ef"/>
<circle cx="182.7" cy="724.3" r="1.3" fill="#cfe2ef"/>
<circle cx="190.65" cy="724.3" r="1.3" fill="#cfe2ef"/>
<circle cx="198.6" cy="724.3" r="1.3" fill="#cfe2ef"/>
<circle cx="206.55" cy="724.3" r="1.3" fill="#cfe2ef"/>
<circle cx="103.2" cy="732.25" r="2.2" fill="#eca58a"/>
<circle cx="127.05" cy="732.25" r="1" fill="#f6cdb8"/>
<circle cx="135" cy="732.25" r="1.6" fill="#f6cdb8"/>
<circle cx="150.9" cy="732.25" r="1.2" fill="#cfe2ef"/>
<circle cx="158.85" cy="732.25" r="1.4" fill="#f6cdb8"/>
<circle cx="166.8" cy="732.25" r="1.2" fill="#f6cdb8"/>
<circle cx="198.6" cy="732.25" r="1.6" fill="#cfe2ef"/>
<circle cx="127.05" cy="740.2" r="1.4" fill="#f6cdb8"/>
<circle cx="135" cy="740.2" r="1.4" fill="#f6cdb8"/>
<circle cx="222.45" cy="740.2" r="1.5" fill="#cfe2ef"/>
<circle cx="103.2" cy="748.15" r="1.6" fill="#f6cdb8"/>
<circle cx="111.15" cy="748.15" r="1.6" fill="#f6cdb8"/>
<circle cx="127.05" cy="748.15" r="1.4" fill="#cfe2ef"/>
<circle cx="142.95" cy="748.15" r="1.2" fill="#cfe2ef"/>
<circle cx="158.85" cy="748.15" r="1.4" fill="#f6cdb8"/>
<circle cx="166.8" cy="748.15" r="1.3" fill="#cfe2ef"/>
<circle cx="198.6" cy="748.15" r="1.3" fill="#cfe2ef"/>
<circle cx="103.2" cy="756.1" r="1.5" fill="#f6cdb8"/>
<circle cx="111.15" cy="756.1" r="1" fill="#f6cdb8"/>
<circle cx="135" cy="756.1" r="2.6" fill="#e39176"/>
<circle cx="158.85" cy="756.1" r="1.3" fill="#f6cdb8"/>
<circle cx="166.8" cy="756.1" r="1.3" fill="#cfe2ef"/>
<circle cx="198.6" cy="756.1" r="1.5" fill="#cfe2ef"/>
<circle cx="222.45" cy="756.1" r="2.2" fill="#9dc6df"/>
<circle cx="230.4" cy="756.1" r="1.3" fill="#cfe2ef"/>
<circle cx="238.35" cy="756.1" r="2" fill="#9dc6df"/>
<circle cx="135" cy="764.05" r="1.2" fill="#f6cdb8"/>
<circle cx="230.4" cy="764.05" r="1.5" fill="#cfe2ef"/>
<circle cx="246.3" cy="764.05" r="2.4" fill="#8ebbd8"/>
</g>
<g class="mr">
<text x="94" y="615">B.cells.naive</text><text x="94" y="622.95">T.cells.CD4.naive</text><text x="94" y="630.9">Dendritic.cells.resting</text><text x="94" y="638.85">T.cells.CD8</text><text x="94" y="646.8">NK.cells.resting</text><text x="94" y="654.75">Macrophages.M1</text><text x="94" y="662.7">Dendritic.cells.activated</text><text x="94" y="670.65">Neutrophils</text><text x="94" y="678.6">T.cells.CD4.memory.resting</text><text x="94" y="686.55">Macrophages.M2</text><text x="94" y="694.5">Macrophages.M0</text><text x="94" y="702.45">Plasma.cells</text><text x="94" y="710.4">Monocytes</text><text x="94" y="718.35">T.cells.follicular.helper</text><text x="94" y="726.3">T.cells.regulatory..Tregs.</text><text x="94" y="734.25">B.cells.memory</text><text x="94" y="742.2">Mast.cells.resting</text><text x="94" y="750.15">T.cells.CD4.memory.activated</text><text x="94" y="758.1">T.cells.gamma.delta</text><text x="94" y="766.05">Eosinophils</text>
</g>
<g class="ml">
<text transform="translate(105.2 607) rotate(-90)">B.cells.naive</text>
<text transform="translate(113.15 614.95) rotate(-90)">T.cells.CD4.naive</text>
<text transform="translate(121.1 622.9) rotate(-90)">Dendritic.cells.resting</text>
<text transform="translate(129.05 630.85) rotate(-90)">T.cells.CD8</text>
<text transform="translate(137 638.8) rotate(-90)">NK.cells.resting</text>
<text transform="translate(144.95 646.75) rotate(-90)">Macrophages.M1</text>
<text transform="translate(152.9 654.7) rotate(-90)">Dendritic.cells.activated</text>
<text transform="translate(160.85 662.65) rotate(-90)">Neutrophils</text>
<text transform="translate(168.8 670.6) rotate(-90)">T.cells.CD4.memory.resting</text>
<text transform="translate(176.75 678.55) rotate(-90)">Macrophages.M2</text>
<text transform="translate(184.7 686.5) rotate(-90)">Macrophages.M0</text>
<text transform="translate(192.65 694.45) rotate(-90)">Plasma.cells</text>
<text transform="translate(200.6 702.4) rotate(-90)">Monocytes</text>
<text transform="translate(208.55 710.35) rotate(-90)">T.cells.follicular.helper</text>
<text transform="translate(216.5 718.3) rotate(-90)">T.cells.regulatory..Tregs.</text>
<text transform="translate(224.45 726.25) rotate(-90)">B.cells.memory</text>
<text transform="translate(232.4 734.2) rotate(-90)">Mast.cells.resting</text>
<text transform="translate(240.35 742.15) rotate(-90)">T.cells.CD4.memory.activated</text>
<text transform="translate(248.3 750.1) rotate(-90)">T.cells.gamma.delta</text>
<text transform="translate(256.25 758.05) rotate(-90)">Eosinophils</text>
</g>
<rect x="99.2" y="770" width="159" height="7.5" fill="url(#rdbu)"/>
<g class="ml" text-anchor="middle">
<text x="97" y="788">-1</text><text x="112.9" y="788">-0.8</text><text x="128.8" y="788">-0.6</text><text x="144.7" y="788">-0.4</text><text x="160.6" y="788">-0.2</text><text x="176.5" y="788">0</text><text x="192.4" y="788">0.2</text><text x="208.3" y="788">0.4</text><text x="224.2" y="788">0.6</text><text x="240.1" y="788">0.8</text><text x="256" y="788">1</text>
</g>
<text class="at" x="173" y="804">Cor (GSE37171)</text>

<!-- ============ PANEL G ============ -->
<text class="pl" x="264" y="540">G</text>
<text class="ttl" x="428" y="556">CDK2</text>
<path class="gl" d="M378.3 572V787.5M393.8 572V787.5M409.3 572V787.5M425.2 572V787.5M441 572V787.5M455.2 572V787.5M469.3 572V787.5M483.8 572V787.5M498.3 572V787.5M373 577.7H503M373 588.4H503M373 599H503M373 609.7H503M373 620.3H503M373 631H503M373 641.6H503M373 652.3H503M373 662.9H503M373 673.6H503M373 684.2H503M373 694.9H503M373 705.5H503M373 716.2H503M373 726.8H503M373 737.5H503M373 748.1H503M373 758.8H503M373 769.4H503M373 780.1H503"/>
<path class="sgm" d="M441 577.7H495.3M441 588.4H477M441 599H459.3M441 609.7H456M441 620.3H455M441 631H455M441 641.6H454.7M441 652.3H440M441 662.9H439M441 673.6H438M441 684.2H431.3M441 694.9H427M441 705.5H425M441 716.2H422.7M441 726.8H419.7M441 737.5H409.3M441 748.1H408.3M441 758.8H395.3M441 769.4H389.3M441 780.1H378.3"/>
<circle cx="495.3" cy="577.7" r="5.3" fill="#3f9b5f"/><circle cx="477" cy="588.4" r="4.5" fill="#3f9b5f"/><circle cx="459.3" cy="599" r="3.2" fill="#55a05b"/><circle cx="456" cy="609.7" r="3" fill="#6ea457"/><circle cx="455" cy="620.3" r="3" fill="#7fa555"/><circle cx="455" cy="631" r="3" fill="#7fa555"/><circle cx="454.7" cy="641.6" r="3" fill="#7fa555"/><circle cx="440" cy="652.3" r="1" fill="#e0bd44"/><circle cx="439" cy="662.9" r="1.2" fill="#e0bd44"/><circle cx="438" cy="673.6" r="1.3" fill="#d9b943"/><circle cx="431.3" cy="684.2" r="2.3" fill="#9ea74f"/><circle cx="427" cy="694.9" r="2.8" fill="#6aa257"/><circle cx="425" cy="705.5" r="2.9" fill="#55a05b"/><circle cx="422.7" cy="716.2" r="3" fill="#55a05b"/><circle cx="419.7" cy="726.8" r="3.2" fill="#4e9f5c"/><circle cx="409.3" cy="737.5" r="3.9" fill="#3f9b5f"/><circle cx="408.3" cy="748.1" r="3.9" fill="#3f9b5f"/><circle cx="395.3" cy="758.8" r="4.4" fill="#3f9b5f"/><circle cx="389.3" cy="769.4" r="4.6" fill="#3f9b5f"/><circle cx="378.3" cy="780.1" r="5.3" fill="#3f9b5f"/>
<path class="lax" d="M373 572V787.5H503"/>
<g class="ll">
<text x="368" y="580.2">NK.cells.resting</text><text x="368" y="590.9">B.cells.naive</text><text x="368" y="601.5">T.cells.CD8</text><text x="368" y="612.2">Neutrophils</text><text x="368" y="622.8">Eosinophils</text><text x="368" y="633.5">Dendritic.cells.resting</text><text x="368" y="644.1">T.cells.CD4.memory.resting</text><text x="368" y="654.8">Macrophages.M2</text><text x="368" y="665.4">Mast.cells.resting</text><text x="368" y="676.1">T.cells.CD4.naive</text><text x="368" y="686.7">T.cells.follicular.helper</text><text x="368" y="697.4">Macrophages.M1</text><text x="368" y="708">T.cells.CD4.memory.activated</text><text x="368" y="718.7">Dendritic.cells.activated</text><text x="368" y="729.3">T.cells.regulatory..Tregs.</text><text x="368" y="740">B.cells.memory</text><text x="368" y="750.6">Macrophages.M0</text><text x="368" y="761.3">T.cells.gamma.delta</text><text x="368" y="771.9">Plasma.cells</text><text x="368" y="782.6">Monocytes</text>
</g>
<g class="tk" text-anchor="middle" style="font-size:7px"><text x="378.3" y="795.5">-0.50</text><text x="409.3" y="795.5">-0.25</text><text x="441" y="795.5">0.00</text><text x="469.3" y="795.5">0.25</text><text x="498.3" y="795.5">0.50</text></g>
<text class="at" x="440" y="810">Cor (GSE37171)</text>
<text class="lg" x="507.3" y="645.5">abs(Cor)</text>
<circle cx="510" cy="649.3" r="1.1" fill="#222"/><circle cx="510" cy="655" r="1.5" fill="#222"/><circle cx="510" cy="660.7" r="1.8" fill="#222"/><circle cx="510" cy="667.3" r="2.1" fill="#222"/><circle cx="510" cy="674.3" r="2.4" fill="#222"/>
<text class="lg" x="515" y="650.8">0.1</text><text class="lg" x="515" y="656.5">0.2</text><text class="lg" x="515" y="662.2">0.3</text><text class="lg" x="515" y="668.8">0.4</text><text class="lg" x="515" y="675.8">0.5</text>
<text class="lg" x="507.3" y="682.2">p.value</text>
<rect x="507.7" y="685.7" width="4" height="26" fill="url(#pv)"/>
<text class="lg" x="514" y="688.2">0.8</text><text class="lg" x="514" y="693.8">0.6</text><text class="lg" x="514" y="699.8">0.4</text><text class="lg" x="514" y="705.8">0.2</text>

<!-- ============ PANEL H ============ -->
<text class="pl" x="543" y="539">H</text>
<text class="ttl" x="707" y="556">CCND1</text>
<path class="gl" d="M658.5 571V787M672.7 571V787M687 571V787M701.2 571V787M715.5 571V787M729.7 571V787M744 571V787M758.2 571V787M637 577.3H765M637 588H765M637 598.6H765M637 609.3H765M637 619.9H765M637 630.6H765M637 641.2H765M637 651.9H765M637 662.5H765M637 673.2H765M637 683.8H765M637 694.5H765M637 705.1H765M637 715.8H765M637 726.4H765M637 737.1H765M637 747.7H765M637 758.4H765M637 769H765M637 779.7H765"/>
<path class="sgm" d="M687 577.3H760M687 588H745.3M687 598.6H726M687 609.3H717.3M687 619.9H711.3M687 630.6H698.7M687 641.2H698.3M687 651.9H689.3M687 662.5H689M687 673.2H683.7M687 683.8H683.7M687 694.5H680M687 705.1H680M687 715.8H676.7M687 726.4H675.3M687 737.1H674.3M687 747.7H659M687 758.4H656.3M687 769H654.3M687 779.7H642.7"/>
<circle cx="760" cy="577.3" r="5.3" fill="#3f9b5f"/><circle cx="745.3" cy="588" r="4.6" fill="#3f9b5f"/><circle cx="726" cy="598.6" r="3.9" fill="#3f9b5f"/><circle cx="717.3" cy="609.3" r="3.5" fill="#3f9b5f"/><circle cx="711.3" cy="619.9" r="3.2" fill="#4e9f5c"/><circle cx="698.7" cy="630.6" r="2.5" fill="#a8aa4e"/><circle cx="698.3" cy="641.2" r="2.5" fill="#a8aa4e"/><circle cx="689.3" cy="651.9" r="1.2" fill="#e0bd44"/><circle cx="689" cy="662.5" r="1.1" fill="#e0bd44"/><circle cx="683.7" cy="673.2" r="1.4" fill="#dcbc45"/><circle cx="683.7" cy="683.8" r="1.4" fill="#dcbc45"/><circle cx="680" cy="694.5" r="1.9" fill="#c2b14a"/><circle cx="680" cy="705.1" r="1.9" fill="#c2b14a"/><circle cx="676.7" cy="715.8" r="2.2" fill="#b3ac4c"/><circle cx="675.3" cy="726.4" r="2.3" fill="#aaa94d"/><circle cx="674.3" cy="737.1" r="2.4" fill="#a8aa4e"/><circle cx="659" cy="747.7" r="3.7" fill="#3f9b5f"/><circle cx="656.3" cy="758.4" r="3.9" fill="#3f9b5f"/><circle cx="654.3" cy="769" r="4" fill="#3f9b5f"/><circle cx="642.7" cy="779.7" r="4.8" fill="#3f9b5f"/>
<path class="lax" d="M637 571V787H765"/>
<g class="ll">
<text x="634" y="579.8">Monocytes</text><text x="634" y="590.5">Plasma.cells</text><text x="634" y="601.1">Macrophages.M0</text><text x="634" y="611.8">B.cells.memory</text><text x="634" y="622.4">T.cells.regulatory..Tregs.</text><text x="634" y="633.1">Dendritic.cells.activated</text><text x="634" y="643.7">Macrophages.M2</text><text x="634" y="654.4">T.cells.follicular.helper</text><text x="634" y="665">T.cells.gamma.delta</text><text x="634" y="675.7">T.cells.CD8</text><text x="634" y="686.3">T.cells.CD4.memory.activated</text><text x="634" y="697">Macrophages.M1</text><text x="634" y="707.6">T.cells.CD4.naive</text><text x="634" y="718.3">Mast.cells.resting</text><text x="634" y="728.9">Eosinophils</text><text x="634" y="739.6">T.cells.CD4.memory.resting</text><text x="634" y="750.2">Dendritic.cells.resting</text><text x="634" y="760.9">Neutrophils</text><text x="634" y="771.5">NK.cells.resting</text><text x="634" y="782.2">B.cells.naive</text>
</g>
<text class="at" x="707" y="810">Cor (GSE37171)</text>
<text class="lg" x="775" y="644.8">abs(Cor)</text>
<circle cx="776.7" cy="649.3" r="1.2" fill="#222"/><circle cx="776.7" cy="655.3" r="1.6" fill="#222"/><circle cx="776.7" cy="661.7" r="2" fill="#222"/><circle cx="776.7" cy="668.7" r="2.4" fill="#222"/>
<text class="lg" x="781.7" y="650.8">0.1</text><text class="lg" x="781.7" y="656.8">0.2</text><text class="lg" x="781.7" y="663.2">0.3</text><text class="lg" x="781.7" y="670.2">0.4</text>
<text class="lg" x="775" y="677.8">p.value</text>
<rect x="772.7" y="680.3" width="4.6" height="25.4" fill="url(#pv)"/>
<text class="lg" x="779" y="682.2">0.8</text><text class="lg" x="779" y="688.5">0.6</text><text class="lg" x="779" y="694.8">0.4</text><text class="lg" x="779" y="700.8">0.2</text>

<!-- watermark -->
<g opacity="0.9">
<ellipse cx="553" cy="786" rx="8.5" ry="7.5" fill="#a6a6a6"/>
<ellipse cx="565" cy="792" rx="8" ry="7" fill="#a6a6a6" stroke="#fff" stroke-width="1.2"/>
<circle cx="550" cy="783.5" r="1" fill="#fff"/><circle cx="556" cy="783.5" r="1" fill="#fff"/>
<circle cx="562.5" cy="790.5" r=".9" fill="#fff"/><circle cx="567.5" cy="790.5" r=".9" fill="#fff"/>
</g>
<text x="578" y="798" textLength="209" lengthAdjust="spacingAndGlyphs" style="font-family:'Liberation Sans','Noto Sans CJK SC',sans-serif;font-size:21px;fill:#ececec;fill-opacity:.75;stroke:#9a9a9a;stroke-width:.7">公众号 · 生信小课堂</text>
</svg>
</body></html>
